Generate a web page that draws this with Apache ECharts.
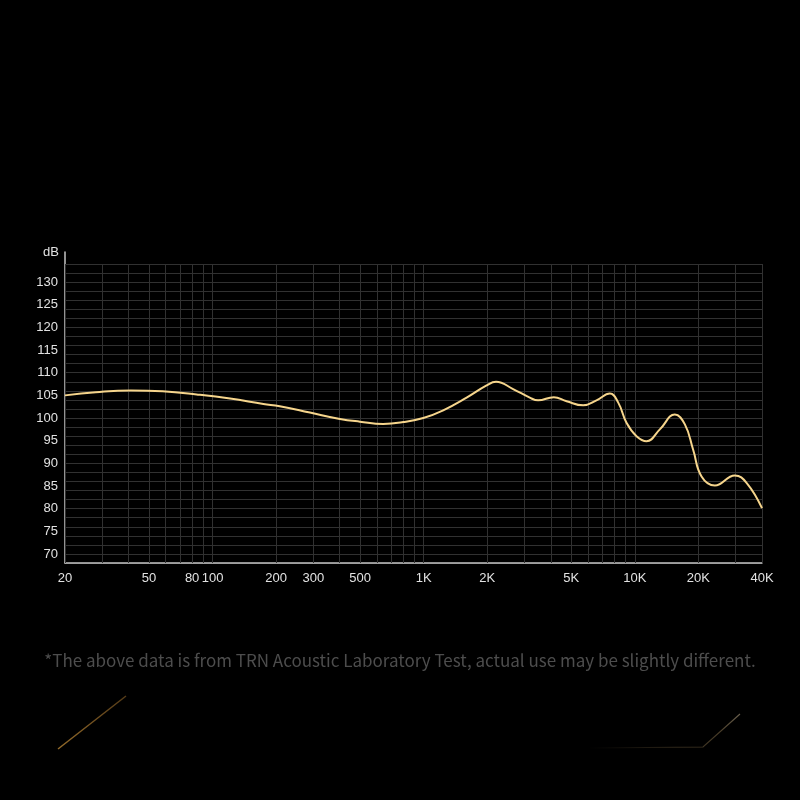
<!DOCTYPE html>
<html><head><meta charset="utf-8">
<script src="https://cdn.jsdelivr.net/npm/echarts@6/dist/echarts.min.js"></script>
<style>html,body{margin:0;padding:0;background:#000}#c{width:800px;height:800px}</style>
</head><body><div id="c"></div>
<script>
// Frequency response (Hz -> dB)
const freqs = [20, 28, 41, 58, 84, 121, 174, 208, 289, 401, 499, 643, 800, 995, 1237, 1596, 1985, 2200, 2650, 3180, 3480, 4130, 4750, 5690, 6580, 7610, 8340, 9140, 10180, 11360, 13130, 15460, 17250, 18880, 20690, 23920, 29740, 33800, 40000];
const dbs   = [105.0, 105.7, 106.1, 105.9, 105.2, 104.3, 103.1, 102.6, 101.2, 99.8, 99.2, 98.7, 99.1, 100.0, 101.7, 104.5, 107.2, 108.0, 106.4, 104.5, 103.9, 104.6, 103.7, 102.8, 103.9, 105.4, 103.4, 98.9, 96.0, 94.9, 97.5, 100.8, 98.6, 93.0, 87.1, 85.1, 87.3, 85.7, 80.1];

// Vertical log grid lines
const gridFreqs = [20,30,40,50,60,70,80,90,100,200,300,400,500,600,700,800,900,1000,2000,3000,4000,5000,6000,7000,8000,9000,10000,20000,30000,40000];
// X tick labels
const labelFreqs = [20,50,80,100,200,300,500,1000,2000,5000,10000,20000,40000];
const labelTexts = ['20','50','80','100','200','300','500','1K','2K','5K','10K','20K','40K'];
// Y tick labels
const yLabels = [70,75,80,85,90,95,100,105,110,115,120,125,130];
const yUnit = 'dB';
const footnote = '*The above data is from TRN Acoustic Laboratory Test, actual use may be slightly different.';

const chart = echarts.init(document.getElementById('c'), null, {renderer: 'canvas'});
const txt = '#e2e2e2';
const gridCol = '#313131';
const axisCol = '#c4c4c4';
const fontF = 'Liberation Sans, Arial, sans-serif';

const option = {
  backgroundColor: '#000',
  animation: false,
  title: {
    text: footnote, left: 'center', top: 647,
    textStyle: {color: '#4d4d4d', fontSize: 17, fontWeight: 'normal', fontFamily: 'Noto Sans CJK SC'}
  },
  grid: [
    {left: 65, right: 38, top: 264, bottom: 237},
    {left: 65, right: 38, top: 252, bottom: 237}
  ],
  xAxis: [
    {type: 'log', logBase: 10, min: 20, max: 40000, gridIndex: 0,
     axisLine: {show: true, lineStyle: {color: axisCol, width: 1.5}},
     axisTick: {show: false}, axisLabel: {show: false}, splitLine: {show: false}, minorTick: {show: false}, minorSplitLine: {show: false}},
    {type: 'value', gridIndex: 1, show: false, min: 0, max: 1}
  ],
  yAxis: [
    {type: 'value', gridIndex: 0, min: 68, max: 134, interval: 2,
     axisLine: {show: false}, axisTick: {show: false}, axisLabel: {show: false},
     splitLine: {show: true, lineStyle: {color: gridCol, width: 1}}},
    {type: 'value', gridIndex: 0, min: 68, max: 134, interval: 1, position: 'left', offset: 0,
     axisLine: {show: false}, axisTick: {show: false}, splitLine: {show: false},
     axisLabel: {show: true, color: txt, fontSize: 13, margin: 7, fontFamily: fontF,
       formatter: v => yLabels.includes(v) ? String(v) : ''}},
    {type: 'value', gridIndex: 1, min: 0, max: 1, position: 'left', offset: 0,
     axisLine: {show: true, lineStyle: {color: axisCol, width: 1.5}},
     axisTick: {show: false}, axisLabel: {show: false}, splitLine: {show: false},
     name: yUnit, nameLocation: 'end', nameGap: 0,
     nameTextStyle: {color: txt, fontSize: 13, fontFamily: fontF, align: 'right', verticalAlign: 'middle', padding: [0, 6, 0, 0]}}
  ],
  series: [
    {type: 'line', xAxisIndex: 0, yAxisIndex: 0, data: [], silent: true, z: 1,
     markLine: {silent: true, symbol: 'none', animation: false, label: {show: false},
       lineStyle: {color: gridCol, width: 1, type: 'solid'},
       data: gridFreqs.map(f => ({xAxis: f}))}},
    {type: 'line', xAxisIndex: 0, yAxisIndex: 0, data: [], silent: true, z: 1,
     markLine: {silent: true, symbol: 'none', animation: false,
       lineStyle: {color: 'rgba(0,0,0,0)', width: 1, type: 'solid'},
       label: {show: true, position: 'start', distance: 9, color: txt, fontSize: 13, fontFamily: fontF, formatter: '{b}'},
       data: labelFreqs.map((f, i) => ({xAxis: f, name: labelTexts[i]}))}},
    {type: 'line', xAxisIndex: 0, yAxisIndex: 0, z: 5, silent: true,
     data: freqs.map((f, i) => [f, dbs[i]]),
     smooth: 0.45, showSymbol: false,
     lineStyle: {color: '#f6d58c', width: 2}}
  ],
  graphic: [
    {type: 'line', silent: true, shape: {x1: 126, y1: 696, x2: 58, y2: 749},
     style: {lineWidth: 1.5, stroke: new echarts.graphic.LinearGradient(0, 0, 1, 1, [
       {offset: 0, color: 'rgba(200,150,60,0.15)'}, {offset: 0.3, color: 'rgba(210,155,60,0.85)'},
       {offset: 0.75, color: 'rgba(150,100,40,0.35)'}, {offset: 1, color: 'rgba(80,60,30,0)'}])}},
    {type: 'polyline', silent: true, shape: {points: [[590, 748], [703, 747], [740, 714]]},
     style: {lineWidth: 1.2, fill: null, stroke: new echarts.graphic.LinearGradient(0, 0, 1, 0, [
       {offset: 0, color: 'rgba(60,50,35,0)'}, {offset: 0.6, color: 'rgba(70,58,38,0.7)'},
       {offset: 0.85, color: 'rgba(90,75,50,0.8)'}, {offset: 1, color: 'rgba(120,110,90,0.9)'}])}}
  ]
};
chart.setOption(option);
</script></body></html>
